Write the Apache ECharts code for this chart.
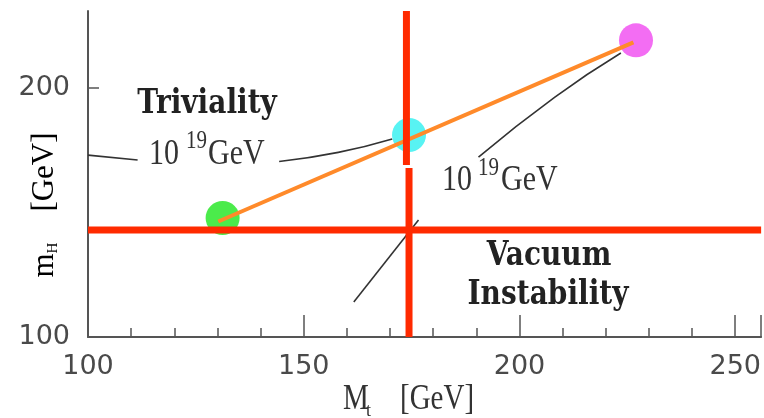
<!DOCTYPE html>
<html>
<head>
<meta charset="utf-8">
<script src="https://cdn.jsdelivr.net/npm/echarts@6/dist/echarts.min.js"></script>
<style>
  html, body { margin: 0; padding: 0; background: #fff; }
  #chart { width: 764px; height: 418px; }
</style>
</head>
<body>
<div id="chart"></div>
<script>
// data (Mt, mH in GeV)
const pointColors = ['#1ee61e', '#2ef0f0', '#f048f0'];
const pointMt = [131.2, 174.4, 227.0];
const pointMh = [147.8, 181.2, 219.2];

// orange band from the green to the magenta point
const bandMt = [130.2, 226.4];
const bandMh = [146.4, 218.4];

// red limits
const vacuumMh = 143;
const xMin = 100, xMax = 256;
const yMin = 100, yMax = 231;
const upperMt = 173.8, upperMh = [231, 169.1];
const lowerMt = 174.4, lowerMh = [167.9, 100];

// black leader lines of the labels
const leaderLeftA = [[100, 173.1], [111.5, 171.1]];
const leaderLeftB = [[144.3, 170.5], [158, 174.2], [170.5, 179.6]];
const leaderRight = [[190.5, 172.3], [208.2, 196.4], [223.5, 214.1]];
const leaderLow = [[161.6, 114.1], [176.6, 147.0]];

const chart = echarts.init(document.getElementById('chart'));

const pts = pointMt.map((x, i) => ({ value: [x, pointMh[i]], itemStyle: { color: pointColors[i] } }));

function lineSeries(data, color, width, z, smooth) {
    return {
        type: 'line',
        data: data,
        showSymbol: false,
        symbol: 'none',
        smooth: !!smooth,
        silent: true,
        z: z,
        lineStyle: { color: color, width: width, cap: 'butt' }
    };
}

// the original figure is stretched vertically, so the serif texts get scaleY
function txt(x, y, text, size, extra) {
    return Object.assign({
        type: 'text', x: x, y: y, scaleY: 1.2,
        style: {
            text: text, fontFamily: 'Liberation Serif', fontSize: size,
            fill: '#333', align: 'left', verticalAlign: 'middle'
        }
    }, extra || {});
}

function boldTxt(x, y, text) {
    return {
        type: 'text', x: x, y: y, scaleY: 1.2,
        style: {
            text: text, fontFamily: 'DejaVu Serif', fontWeight: 'bold', fontSize: 28,
            fill: '#222', align: 'center', verticalAlign: 'middle'
        }
    };
}

const axisColor = '#555';

const option = {
    animation: false,
    grid: { left: 88, right: 0, top: 11, bottom: 81 },
    xAxis: {
        type: 'value',
        min: xMin, max: xMax, interval: 50,
        axisLine: { lineStyle: { color: axisColor, width: 2 } },
        axisTick: { inside: true, length: 22, lineStyle: { color: axisColor, width: 1.5 } },
        minorTick: { show: true, splitNumber: 5, length: 9, lineStyle: { color: axisColor, width: 1.5 } },
        axisLabel: { fontFamily: 'DejaVu Sans', fontSize: 27, color: '#4a4a4a', margin: 16, showMaxLabel: false },
        splitLine: { show: false }
    },
    yAxis: {
        type: 'value',
        min: yMin, max: yMax, interval: 100,
        axisLine: { show: true, lineStyle: { color: axisColor, width: 2 } },
        axisTick: { show: true, inside: true, length: 11, lineStyle: { color: axisColor, width: 1.5 } },
        axisLabel: { fontFamily: 'DejaVu Sans', fontSize: 27, color: '#4a4a4a', margin: 18, showMaxLabel: false },
        splitLine: { show: false }
    },
    graphic: [
        boldTxt(207, 104, 'Triviality'),
        boldTxt(549, 256, 'Vacuum'),
        boldTxt(548, 295, 'Instability'),

        // left 10^19 GeV
        txt(149, 155, '10', 30),
        txt(186, 141, '19', 21),
        txt(208, 155, 'GeV', 30),
        // right 10^19 GeV
        txt(442, 181, '10', 30),
        txt(478, 168, '19', 21),
        txt(501, 181, 'GeV', 30),

        // x axis name
        txt(343, 400, 'M', 29),
        txt(366, 411, 't', 18, { scaleY: 1 }),
        txt(400, 400, '[GeV]', 29),

        // y axis name, rotated
        {
            type: 'text', x: 45, y: 205, rotation: Math.PI / 2,
            style: {
                text: '{m|m}{h|H}{m|    [GeV]}', align: 'center', verticalAlign: 'middle',
                rich: {
                    m: { fontFamily: 'Liberation Serif', fontSize: 31, color: '#333' },
                    h: { fontFamily: 'Liberation Serif', fontSize: 15, color: '#333', verticalAlign: 'bottom' }
                }
            }
        }
    ],
    series: [
        {
            type: 'scatter',
            data: pts,
            symbolSize: 34,
            silent: true,
            z: 1
        },
        lineSeries(leaderLeftA, '#333', 1.6, 2),
        lineSeries(leaderLeftB, '#333', 1.6, 2, true),
        lineSeries(leaderRight, '#333', 1.6, 2, true),
        lineSeries(leaderLow, '#333', 1.6, 2),
        lineSeries(bandMt.map((x, i) => [x, bandMh[i]]), '#ff8a2a', 4, 3),
        lineSeries([[xMin, vacuumMh], [xMax, vacuumMh]], '#ff2a00', 7, 4),
        lineSeries(upperMh.map(y => [upperMt, y]), '#ff2a00', 7, 4),
        lineSeries(lowerMh.map(y => [lowerMt, y]), '#ff2a00', 7, 4)
    ]
};

chart.setOption(option);
</script>
</body>
</html>
